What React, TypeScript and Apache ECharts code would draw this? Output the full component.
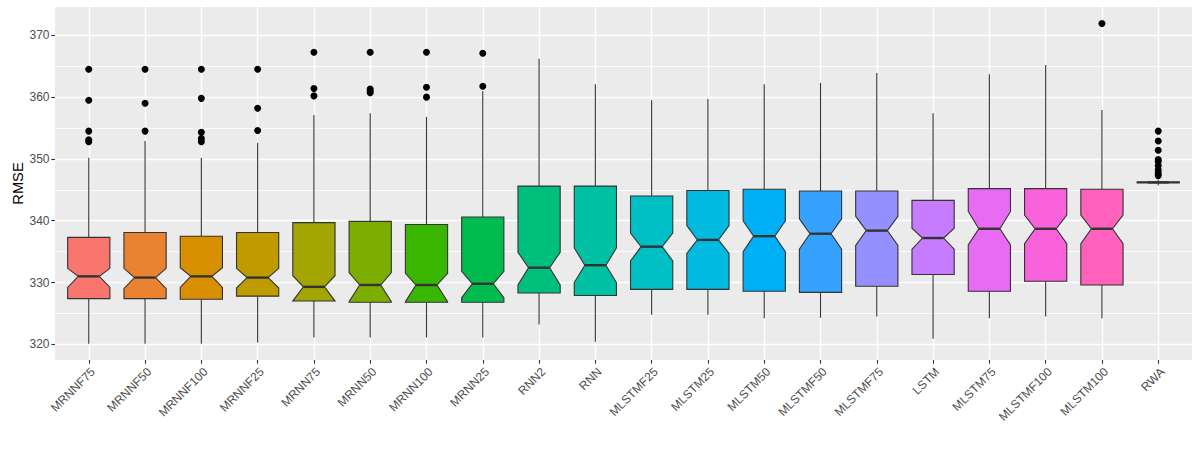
import React, { useEffect, useRef } from "react";
import * as echarts from "echarts";

const categories = ["MRNNF75","MRNNF50","MRNNF100","MRNNF25","MRNN75","MRNN50","MRNN100","MRNN25","RNN2","RNN","MLSTMF25","MLSTM25","MLSTM50","MLSTMF50","MLSTMF75","LSTM","MLSTM75","MLSTMF100","MLSTM100","RWA"];
const whiskerLow = [320.1,320.1,320.1,320.3,321.1,321.1,321.1,321.1,323.2,320.4,324.8,324.8,324.2,324.3,324.5,320.9,324.2,324.5,324.2,345.7];
const q1 = [327.4,327.4,327.3,327.8,327.0,326.8,326.8,326.8,328.3,327.9,328.9,328.9,328.6,328.4,329.4,331.3,328.6,330.2,329.6,346.1];
const notchLow = [329.2,329.0,329.2,329.1,327.0,326.9,326.9,327.55,329.6,330.0,333.5,334.7,335.0,335.4,336.0,335.4,336.1,336.3,336.3,346.15];
const median = [331.0,330.8,331.0,330.8,329.3,329.6,329.6,329.8,332.4,332.8,335.8,336.9,337.5,337.9,338.4,337.2,338.7,338.7,338.7,346.2];
const notchHigh = [332.3,332.3,332.4,332.3,331.1,331.6,331.5,331.8,334.9,335.6,338.0,339.2,340.0,340.3,340.7,338.8,341.5,340.9,340.9,346.25];
const q3 = [337.3,338.1,337.5,338.1,339.7,339.9,339.4,340.6,345.6,345.6,344.0,344.9,345.1,344.8,344.8,343.3,345.2,345.2,345.1,346.3];
const whiskerHigh = [350.2,352.9,350.2,352.6,357.1,357.4,356.8,361.0,366.2,362.1,359.5,359.7,362.1,362.3,363.9,357.4,363.7,365.2,357.9,346.6];
const outliers: number[][] = [
  [364.5, 359.5, 354.5, 353.1, 352.8],
  [364.5, 359.0, 354.5],
  [364.5, 359.8, 354.3, 353.3, 352.8],
  [364.5, 358.2, 354.6],
  [367.25, 361.4, 360.2],
  [367.25, 361.3, 361.0, 360.7],
  [367.25, 361.6, 360.0],
  [367.1, 361.75],
  [], [], [], [], [], [], [], [], [], [],
  [371.9],
  [354.5, 352.9, 351.4, 349.9, 349.6, 348.9, 348.2, 347.7, 347.3],
];
const fills = ["#F8766D","#EA8331","#D89000","#C09B00","#A3A500","#7CAE00","#39B600","#00BB4E","#00BF7D","#00C1A3","#00BFC4","#00BAE0","#00B0F6","#35A2FF","#9590FF","#C77CFF","#E76BF3","#FA62DB","#FF62BC","#FF6C91"];
const yTicks = [320, 330, 340, 350, 360, 370];

// panel geometry (pixels)
const PANEL_L = 55, PANEL_R = 1192, PANEL_T = 7, PANEL_B = 360;
const PX_PER_UNIT = 6.18;
const Y370 = 35.33;
const Y_MIN = 370 - (PANEL_B - Y370) / PX_PER_UNIT;
const Y_MAX = 370 + (Y370 - PANEL_T) / PX_PER_UNIT;
const UNIT = (PANEL_R - PANEL_L) / 20.2;

export default function App() {
  const ref = useRef<HTMLDivElement>(null);
  useEffect(() => {
    document.body.style.margin = "0";
    const chart = echarts.init(ref.current!, null, { renderer: "svg" });
    const font = "'Liberation Sans', Arial, sans-serif";
    const gridATop = Y370 - 10 * PX_PER_UNIT;
    const gridABottom = 450 - (Y370 + 60 * PX_PER_UNIT);
    const scatterData: number[][] = [];
    outliers.forEach((arr, i) => arr.forEach((v) => scatterData.push([i, v])));
    const option: any = {
      animation: false,
      textStyle: { fontFamily: font },
      graphic: {
        elements: [
          {
            type: "rect",
            z: -10,
            silent: true,
            shape: { x: PANEL_L, y: PANEL_T, width: PANEL_R - PANEL_L, height: PANEL_B - PANEL_T },
            style: { fill: "#EBEBEB" },
          },
        ],
      },
      grid: [
        { left: PANEL_L, right: 1200 - PANEL_R, top: gridATop, bottom: gridABottom, outerBoundsMode: "none" },
        {
          left: PANEL_L + 0.6 * UNIT,
          right: 1200 - (PANEL_R - 0.6 * UNIT),
          top: PANEL_T,
          bottom: 450 - PANEL_B,
          outerBoundsMode: "none",
        },
      ],
      xAxis: [
        { type: "value", gridIndex: 0, min: 0, max: 1, show: false },
        {
          type: "category",
          gridIndex: 1,
          data: categories,
          boundaryGap: false,
          z: 2,
          axisLine: { show: false },
          axisTick: { show: true, length: 3.7, lineStyle: { color: "#333333", width: 1.1 } },
          axisLabel: {
            interval: 0,
            rotate: 45,
            align: "right",
            verticalAlign: "top",
            margin: 5.5,
            color: "#4D4D4D",
            fontSize: 12,
            fontFamily: font,
          },
          splitLine: { show: true, lineStyle: { color: "#FFFFFF", width: 1.4 } },
        },
      ],
      yAxis: [
        {
          type: "value",
          gridIndex: 0,
          min: 310,
          max: 380,
          interval: 10,
          axisLine: { show: false },
          axisTick: { show: true, length: 3.7, customValues: yTicks, lineStyle: { color: "#333333", width: 1.1 } },
          axisLabel: { customValues: yTicks, color: "#4D4D4D", fontSize: 12, margin: 5.5, fontFamily: font },
          splitLine: { show: true, lineStyle: { color: "#FFFFFF", width: 1.4 } },
          minorTick: { show: false, splitNumber: 2 },
          minorSplitLine: { show: true, lineStyle: { color: "#FFFFFF", width: 0.8 } },
        },
        {
          type: "value",
          gridIndex: 1,
          min: Y_MIN,
          max: Y_MAX,
          name: "RMSE",
          nameLocation: "middle",
          nameGap: 63,
          nameRotate: 90,
          nameTextStyle: { color: "#000000", fontSize: 14.7, fontFamily: font },
          axisLine: { show: false },
          axisTick: { show: false },
          axisLabel: { show: false },
          splitLine: { show: false },
        },
      ],
      series: [
        {
          type: "custom",
          xAxisIndex: 1,
          yAxisIndex: 1,
          z: 3,
          clip: false,
          encode: { x: 0, y: 1 },
          data: categories.map((_, i) => [i, median[i]]),
          renderItem: (params: any, api: any) => {
            const i = api.value(0);
            const cx = api.coord([i, median[i]])[0];
            const band = Math.abs(api.coord([1, median[i]])[0] - api.coord([0, median[i]])[0]);
            const w = band * 0.375;
            const y = (v: number) => api.coord([i, v])[1];
            const stroke = "#333333";
            const pts = [
              [cx - w, y(q3[i])],
              [cx + w, y(q3[i])],
              [cx + w, y(notchHigh[i])],
              [cx + w / 2, y(median[i])],
              [cx + w, y(notchLow[i])],
              [cx + w, y(q1[i])],
              [cx - w, y(q1[i])],
              [cx - w, y(notchLow[i])],
              [cx - w / 2, y(median[i])],
              [cx - w, y(notchHigh[i])],
            ];
            return {
              type: "group",
              children: [
                { type: "line", shape: { x1: cx, y1: y(q3[i]), x2: cx, y2: y(whiskerHigh[i]) }, style: { stroke, lineWidth: 1.1 } },
                { type: "line", shape: { x1: cx, y1: y(q1[i]), x2: cx, y2: y(whiskerLow[i]) }, style: { stroke, lineWidth: 1.1 } },
                { type: "polygon", shape: { points: pts }, style: { fill: fills[i], stroke, lineWidth: 1.1 } },
                { type: "line", shape: { x1: cx - w / 2, y1: y(median[i]), x2: cx + w / 2, y2: y(median[i]) }, style: { stroke, lineWidth: 2.4 } },
              ],
            };
          },
        },
        {
          type: "scatter",
          xAxisIndex: 1,
          yAxisIndex: 1,
          z: 4,
          symbol: "circle",
          symbolSize: 7,
          itemStyle: { color: "#000000", opacity: 1 },
          data: scatterData,
        },
      ],
    };
    chart.setOption(option);
    return () => chart.dispose();
  }, []);
  return <div ref={ref} style={{ width: 1200, height: 450 }} />;
}
